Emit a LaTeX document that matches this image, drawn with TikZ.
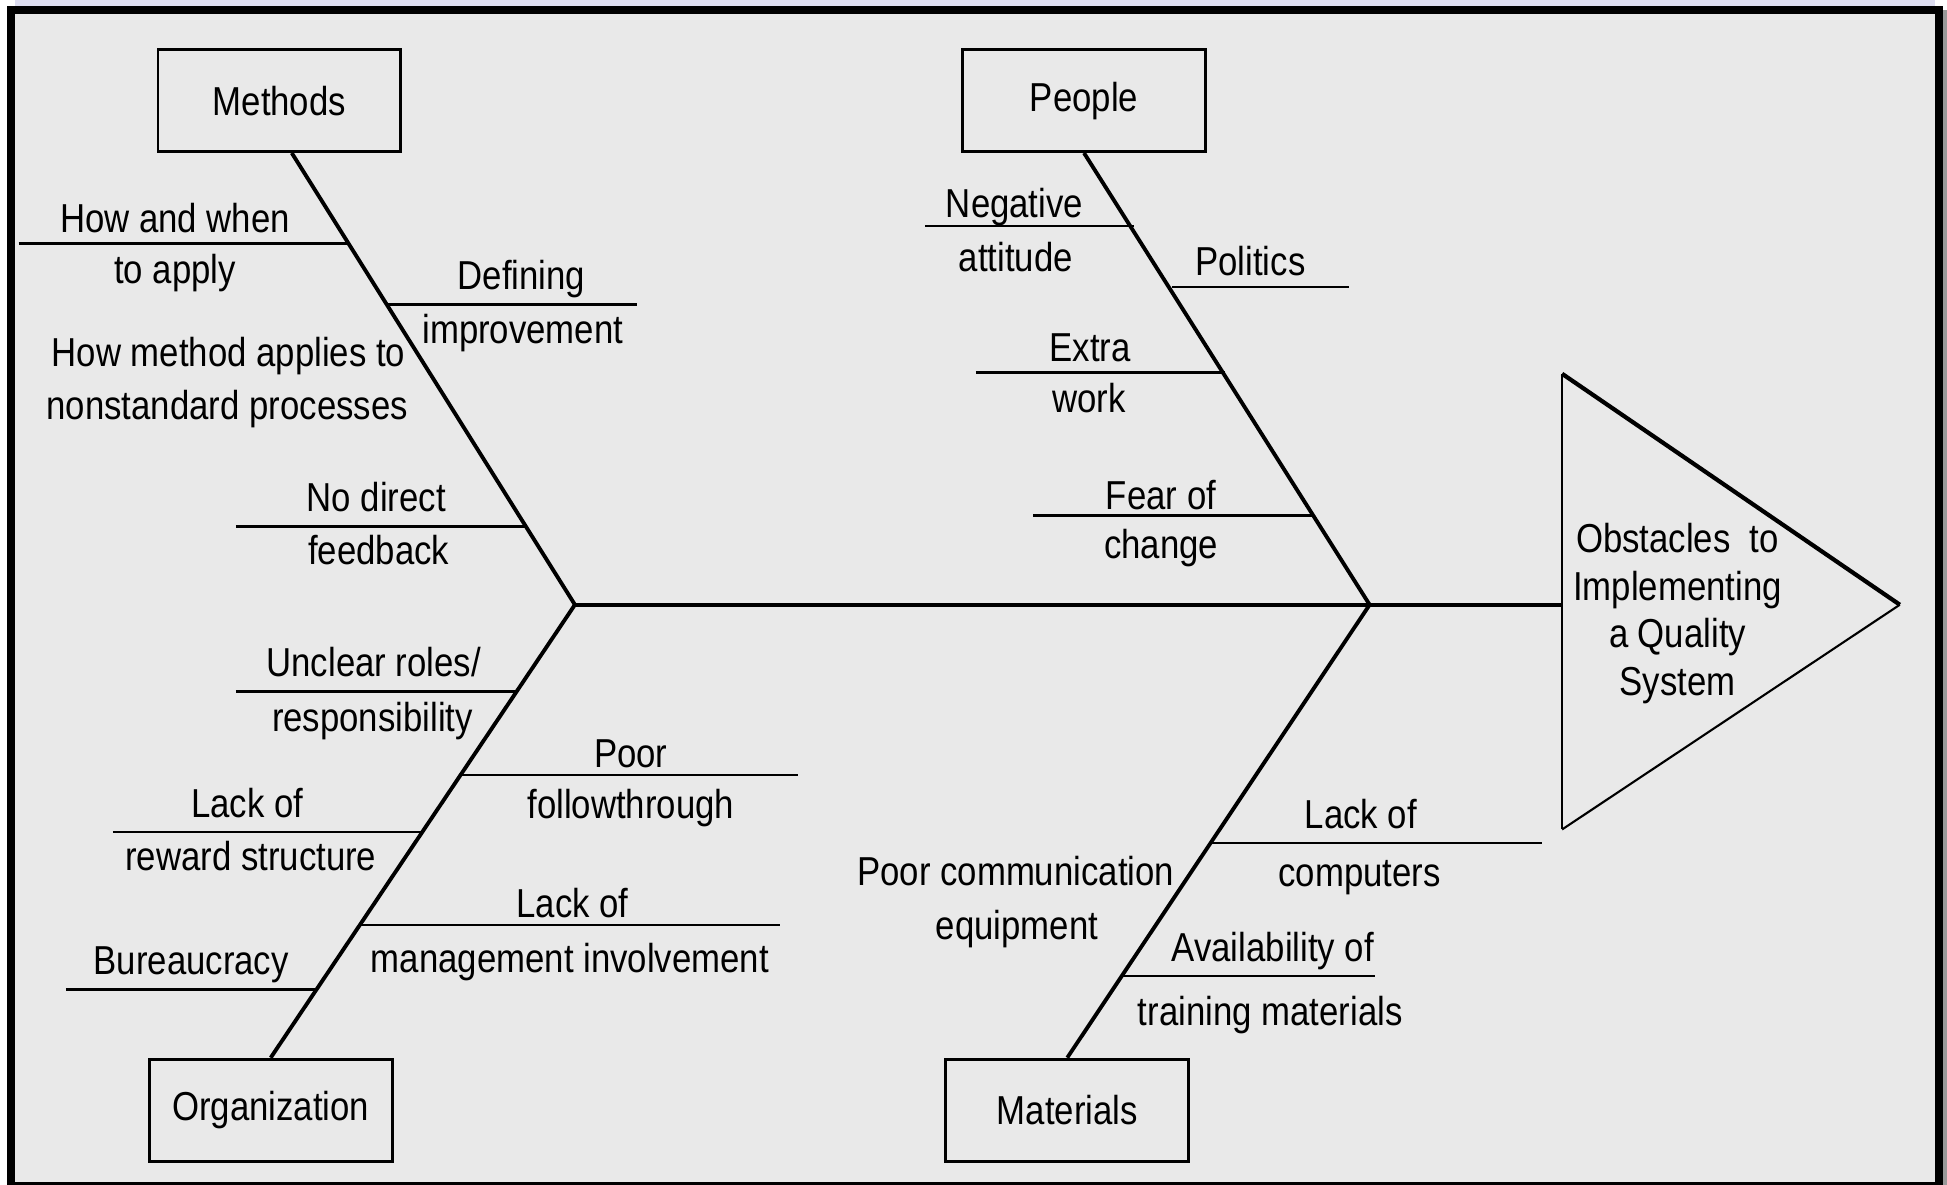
\documentclass[tikz,border=0pt]{standalone}
\usepackage{fontspec}
\setmainfont{Liberation Sans}[FakeStretch=0.86]
\definecolor{paper}{HTML}{E9E9E9}
\definecolor{lavender}{HTML}{DDDDF0}
\begin{document}
\begin{tikzpicture}[x=0.012417cm, y=-0.012417cm,
		font=\fontsize{11.5}{13.8}\selectfont,
		catbox/.style={draw=black, line width=0.8pt, minimum width=2.43cm, minimum height=1.02cm, inner sep=0pt},
		bone/.style={draw=black, line width=1.1pt},
		twig/.style={draw=black, line width=0.75pt},
		lbl/.style={anchor=base, inner sep=0pt}]

		% frame and grey paper
		\useasboundingbox (0,0) rectangle (1568,954);
		\fill[white] (0,0) rectangle (1568,954);
		\fill[lavender] (12,0) rectangle (1558,6);
		\fill[black!40] (1565,8) rectangle (1568,954);
		\fill[black] (5.6,4.8) rectangle (1565,954);
		\fill[paper] (12.1,11.3) rectangle (1558.4,952);

		% the four cause boxes
		\node[catbox] (methods) at (225,81) {Methods};
		\node[catbox] (people) at (873,81) {People};
		\node[catbox] (organization) at (218,894) {Organization};
		\node[catbox] (materials) at (859.5,894) {Materials};

		% spine and head
		\coordinate (jl) at (463,487);
		\coordinate (jr) at (1103,487);
		\coordinate (head) at (1258,487);
		\coordinate (htop) at (1258,301);
		\coordinate (hbot) at (1258,668);
		\coordinate (htip) at (1530,487);

		\draw[bone] (jl) -- (head);
		\draw[line width=0.8pt] (htop) -- (hbot);
		\draw[line width=1.2pt] (htop) -- (htip);
		\draw[line width=0.6pt] (htip) -- (hbot);
		\node[align=center, inner sep=0pt, font=\fontsize{11.5}{13.5}\selectfont] (effect) at (1351,494)
			{Obstacles\ \ to\\Implementing\\a Quality\\System};

		% main bones
		\draw[bone] ([xshift=0.124cm]methods.south) -- (jl);
		\draw[bone] (organization.north) -- (jl);
		\draw[bone] (people.south) -- (jr);
		\draw[bone] (materials.north) -- (jr);

		% methods
		\coordinate (m1) at (281.2,196);  \coordinate (m1e) at (15,196);
		\coordinate (m2) at (311.8,245);  \coordinate (m2e) at (513,245);
		\coordinate (m3) at (423.6,424);  \coordinate (m3e) at (190,424);
		\draw[twig] (m1e) -- (m1);
		\draw[twig] (m2) -- (m2e);
		\draw[twig] (m3e) -- (m3);
		\node[lbl] (m1a) at (141,187) {How and when};
		\node[lbl] (m1b) at (141,228) {to apply};
		\node[lbl] (m2a) at (420,233) {Defining};
		\node[lbl] (m2b) at (421,277) {improvement};
		\node[lbl] (m4a) at (184,295) {How method applies to};
		\node[lbl] (m4b) at (183,338) {nonstandard processes};
		\node[lbl] (m3a) at (303,412) {No direct};
		\node[lbl] (m3b) at (305,455) {feedback};

		% organization
		\coordinate (o1) at (416.1,557);  \coordinate (o1e) at (190,557);
		\coordinate (o2) at (371.3,624);  \coordinate (o2e) at (643,624);
		\coordinate (o3) at (340.5,670);  \coordinate (o3e) at (91,670);
		\coordinate (o4) at (290.3,745);  \coordinate (o4e) at (628,745);
		\coordinate (o5) at (255.5,797);  \coordinate (o5e) at (53,797);
		\draw[twig] (o1e) -- (o1);
		\draw[twig] (o2) -- (o2e);
		\draw[twig] (o3e) -- (o3);
		\draw[twig] (o4) -- (o4e);
		\draw[twig] (o5e) -- (o5);
		\node[lbl] (o1a) at (301,545) {Unclear roles/};
		\node[lbl] (o1b) at (300,589) {responsibility};
		\node[lbl] (o2a) at (508,618) {Poor};
		\node[lbl] (o2b) at (508,659) {followthrough};
		\node[lbl] (o3a) at (199,658) {Lack of};
		\node[lbl] (o3b) at (202,701) {reward structure};
		\node[lbl] (o4a) at (461,739) {Lack of};
		\node[lbl] (o4b) at (459,783) {management involvement};
		\node[lbl] (o5a) at (154,785) {Bureaucracy};

		% people
		\coordinate (p1) at (913.3,182);  \coordinate (p1e) at (745,182);
		\coordinate (p2) at (943.8,231);  \coordinate (p2e) at (1086,231);
		\coordinate (p3) at (986.7,300);  \coordinate (p3e) at (786,300);
		\coordinate (p4) at (1058.2,415); \coordinate (p4e) at (832,415);
		\draw[twig] (p1e) -- (p1);
		\draw[twig] (p2) -- (p2e);
		\draw[twig] (p3e) -- (p3);
		\draw[twig] (p4e) -- (p4);
		\node[lbl] (p1a) at (817,175) {Negative};
		\node[lbl] (p1b) at (818,219) {attitude};
		\node[lbl] (p2a) at (1007,222) {Politics};
		\node[lbl] (p3a) at (878,291) {Extra};
		\node[lbl] (p3b) at (877,332) {work};
		\node[lbl] (p4a) at (935,410) {Fear of};
		\node[lbl] (p4b) at (935,450) {change};

		% materials
		\coordinate (t1) at (975.5,679);  \coordinate (t1e) at (1242,679);
		\coordinate (t2) at (904.5,786);  \coordinate (t2e) at (1107,786);
		\draw[twig] (t1) -- (t1e);
		\draw[twig] (t2) -- (t2e);
		\node[lbl] (t1a) at (1096,667) {Lack of};
		\node[lbl] (t1b) at (1095,714) {computers};
		\node[lbl] (t3a) at (818,713) {Poor communication};
		\node[lbl] (t3b) at (819,757) {equipment};
		\node[lbl] (t2a) at (1025,774) {Availability of};
		\node[lbl] (t2b) at (1023,826) {training materials};
	\end{tikzpicture}
\end{document}
